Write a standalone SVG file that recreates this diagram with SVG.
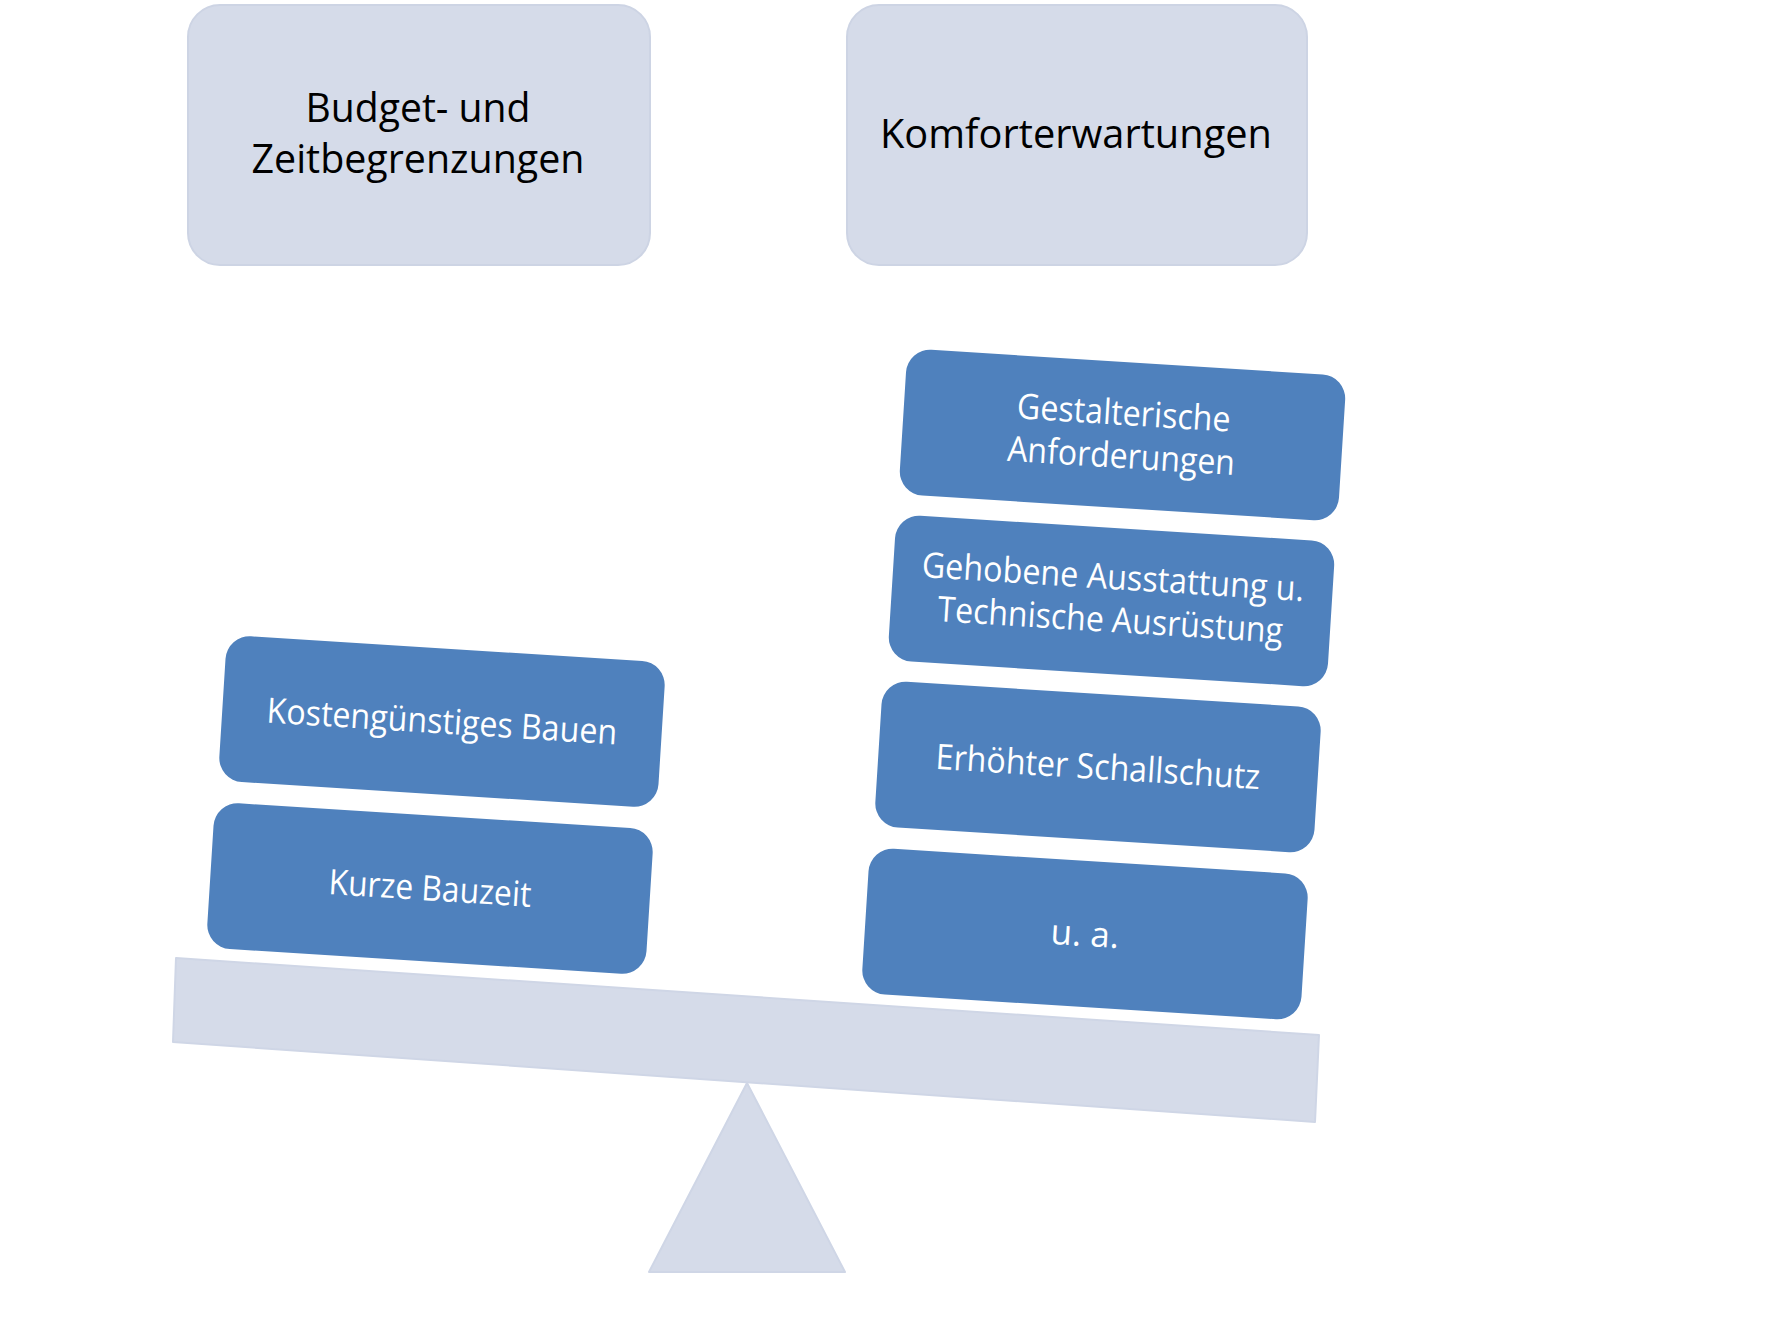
<svg xmlns="http://www.w3.org/2000/svg" width="1778" height="1334" viewBox="0 0 1778 1334">
<style>
.cat{fill:#d5dbe9;stroke:#cdd4e4;stroke-width:2}
.cat-t{font-family:"Open Sans","Liberation Sans",sans-serif;font-size:40px;fill:#000;text-anchor:middle}
.itm{fill:#4f81bd}
.itm-t{font-family:"Open Sans","Liberation Sans",sans-serif;font-size:35px;fill:#fff;text-anchor:middle}
.scale{fill:#d5dbe9;stroke:#cfd6e6;stroke-width:2;stroke-linejoin:round}
</style>
<rect width="1778" height="1334" fill="#fff"/>
<g id="scale">
<polygon id="fulcrum" class="scale" points="747,1083 845,1272 649,1272"/>
<polygon id="beam" class="scale" points="176,958 1319,1035 1315,1122 173,1042"/>
</g>
<g id="budget">
<rect class="cat" x="188" y="5" width="462" height="260" rx="32"/>
<text class="cat-t" x="418" y="122" textLength="225" lengthAdjust="spacingAndGlyphs">Budget- und</text>
<text class="cat-t" x="418" y="173" textLength="333" lengthAdjust="spacingAndGlyphs">Zeitbegrenzungen</text>
</g>
<g id="komfort">
<rect class="cat" x="847" y="5" width="460" height="260" rx="32"/>
<text class="cat-t" x="1076" y="148" textLength="392" lengthAdjust="spacingAndGlyphs">Komforterwartungen</text>
</g>
<g id="gestalterisch" transform="translate(1122.5,435) rotate(3.6)">
<rect class="itm" x="-220" y="-73" width="440" height="146" rx="24"/>
<text class="itm-t" x="0" y="-10" textLength="214" lengthAdjust="spacingAndGlyphs">Gestalterische</text>
<text class="itm-t" x="0" y="33" textLength="228" lengthAdjust="spacingAndGlyphs">Anforderungen</text>
</g>
<g id="ausstattung" transform="translate(1111.5,601) rotate(3.6)">
<rect class="itm" x="-220" y="-73" width="440" height="146" rx="24"/>
<text class="itm-t" x="0" y="-12" textLength="383" lengthAdjust="spacingAndGlyphs">Gehobene Ausstattung u.</text>
<text class="itm-t" x="0" y="31" textLength="346" lengthAdjust="spacingAndGlyphs">Technische Ausrüstung</text>
</g>
<g id="schallschutz" transform="translate(1098,767) rotate(3.6)">
<rect class="itm" x="-220" y="-73" width="440" height="146" rx="24"/>
<text class="itm-t" x="0" y="12" textLength="325" lengthAdjust="spacingAndGlyphs">Erhöhter Schallschutz</text>
</g>
<g id="ua" transform="translate(1085,934) rotate(3.6)">
<rect class="itm" x="-220" y="-73" width="440" height="146" rx="24"/>
<text class="itm-t" x="0" y="12">u. a.</text>
</g>
<g id="kosten" transform="translate(442,721.5) rotate(3.6)">
<rect class="itm" x="-220" y="-73" width="440" height="146" rx="24"/>
<text class="itm-t" x="0" y="12" textLength="351" lengthAdjust="spacingAndGlyphs">Kostengünstiges Bauen</text>
</g>
<g id="bauzeit" transform="translate(430,888.5) rotate(3.6)">
<rect class="itm" x="-220" y="-73" width="440" height="146" rx="24"/>
<text class="itm-t" x="0" y="12" textLength="203" lengthAdjust="spacingAndGlyphs">Kurze Bauzeit</text>
</g>
</svg>
